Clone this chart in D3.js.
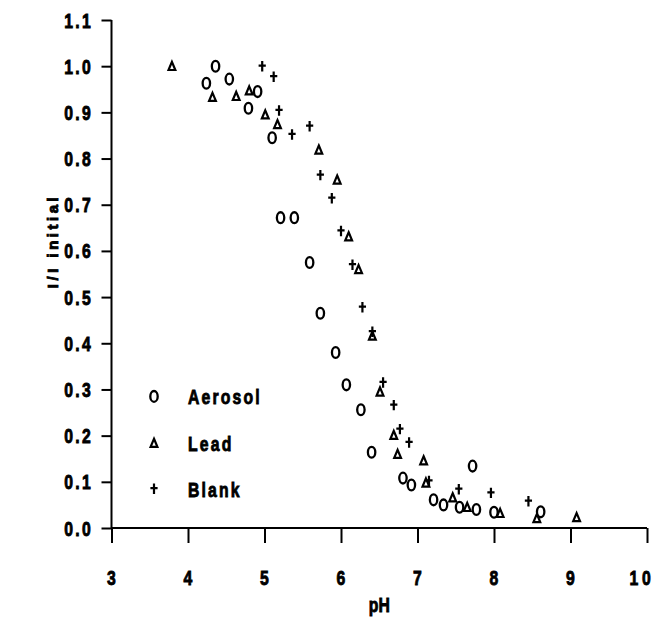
<!DOCTYPE html>
<html>
<head>
<meta charset="utf-8">
<script src="https://cdn.jsdelivr.net/npm/d3@7"></script>
<style>
  html, body { margin: 0; padding: 0; background: #fff; }
  svg text { font-family: "Liberation Sans", Arial, sans-serif; font-weight: bold; fill: #000; stroke: #000; stroke-width: 0.9px; }
</style>
</head>
<body>
<svg id="chart" width="659" height="619"></svg>
<script>
// ---- data ----
const aerosolPH = [4.36, 4.24, 4.54, 4.91, 4.79, 5.10, 5.21, 5.39, 5.59, 5.73, 5.93, 6.07, 6.26, 6.40, 6.81, 6.92, 7.21, 7.34, 7.55, 7.77, 7.72, 8.00, 8.61];
const aerosolI  = [1.00, 0.963, 0.972, 0.945, 0.909, 0.845, 0.672, 0.672, 0.575, 0.465, 0.380, 0.310, 0.256, 0.164, 0.108, 0.093, 0.061, 0.050, 0.045, 0.040, 0.134, 0.034, 0.035];
const leadPH = [3.79, 4.32, 4.63, 4.80, 5.01, 5.17, 5.71, 5.95, 6.10, 6.23, 6.41, 6.51, 6.69, 6.74, 7.08, 7.11, 7.46, 7.65, 8.08, 8.56, 9.08];
const leadI  = [1.00, 0.933, 0.935, 0.947, 0.895, 0.874, 0.819, 0.754, 0.631, 0.560, 0.416, 0.295, 0.201, 0.160, 0.146, 0.098, 0.066, 0.045, 0.032, 0.021, 0.023];
const blankPH = [4.97, 5.12, 5.19, 5.36, 5.59, 5.73, 5.88, 6.00, 6.15, 6.28, 6.41, 6.55, 6.69, 6.77, 6.89, 7.15, 7.54, 7.96, 8.45];
const blankI  = [1.00, 0.977, 0.904, 0.852, 0.870, 0.764, 0.714, 0.643, 0.570, 0.478, 0.425, 0.315, 0.266, 0.214, 0.185, 0.102, 0.084, 0.076, 0.058];
const xTicks = [3, 4, 5, 6, 7, 8, 9, 10];
const yTicks = [0.0, 0.1, 0.2, 0.3, 0.4, 0.5, 0.6, 0.7, 0.8, 0.9, 1.0, 1.1];
const seriesNames = ["Aerosol", "Lead", "Blank"];
const xTitle = "pH";
const yTitle = "I/I initial";

// ---- layout ----
const svg = d3.select("#chart");
const x = d3.scaleLinear().domain([3, 10]).range([111.5, 647]);
const y = d3.scaleLinear().domain([0, 1.1]).range([528, 20]);
const SX = 0.75; // horizontal condensing of the bold type

function condText(parent, tx, ty, str, opts) {
  const g = parent.append("g").attr("transform", `translate(${tx},${ty}) scale(${SX},1)`);
  return g.append("text").attr("x", 0).attr("y", 0)
    .attr("font-size", opts.size || 21)
    .attr("letter-spacing", opts.ls || 0)
    .attr("text-anchor", opts.anchor || "start")
    .text(str);
}

// marker shapes
function circleMark(g) {
  g.append("ellipse").attr("rx", 3.7).attr("ry", 5.4)
    .attr("fill", "none").attr("stroke", "#000").attr("stroke-width", 2.3);
}
function triMark(g) {
  g.append("path").attr("d", "M0,-4.3 L3.4,3.8 L-3.4,3.8 Z")
    .attr("fill", "none").attr("stroke", "#000").attr("stroke-width", 2.2).attr("stroke-linejoin", "miter");
}
function plusMark(g) {
  g.append("path").attr("d", "M0,-5.2 V5.2 M-3.6,-0.6 H3.6")
    .attr("fill", "none").attr("stroke", "#000").attr("stroke-width", 2.2);
}

// ---- axes ----
const xAxis = d3.axisBottom(x).tickValues(xTicks).tickSize(15).tickFormat("");
const gx = svg.append("g").attr("transform", `translate(0,${y(0)})`).call(xAxis);
gx.select(".domain").attr("stroke", "#000").attr("stroke-width", 2).attr("d", `M${x(3)},0H${x(10)}`);
gx.selectAll(".tick line").attr("stroke", "#000").attr("stroke-width", 2);
xTicks.forEach(t => {
  condText(svg, x(t) + (t === 10 ? -5 : 0), 585, String(t), { anchor: "middle", ls: t === 10 ? 5 : 0 });
});

const yAxis = d3.axisLeft(y).tickValues(yTicks).tickSize(10).tickFormat("");
const gy = svg.append("g").attr("transform", `translate(${x(3)},0)`).call(yAxis);
gy.select(".domain").attr("stroke", "#000").attr("stroke-width", 2).attr("d", `M0,${y(1.1)}V${y(0)}`);
gy.selectAll(".tick line").attr("stroke", "#000").attr("stroke-width", 2);
const yFmt = d3.format(".1f");
yTicks.forEach(t => {
  condText(svg, 93, y(t) + 7.5, yFmt(t), { anchor: "end", ls: 3 });
});

// axis titles
condText(svg, (x(3) + x(10)) / 2, 612, xTitle, { anchor: "middle", size: 21 });
svg.append("text").attr("transform", `translate(58,241) rotate(-90)`).attr("text-anchor", "middle")
  .attr("font-size", 15).attr("letter-spacing", "3.5px").text(yTitle);

// ---- data points ----
const data = [
  { pH: aerosolPH, I: aerosolI, mark: circleMark },
  { pH: leadPH, I: leadI, mark: triMark },
  { pH: blankPH, I: blankI, mark: plusMark }
];
data.forEach(s => {
  s.pH.forEach((p, i) => {
    const g = svg.append("g").attr("transform", `translate(${x(p)},${y(s.I[i])})`);
    s.mark(g);
  });
});

// ---- legend ----
const legMarks = [circleMark, triMark, plusMark];
const legendY = [0.285, 0.184, 0.085];
seriesNames.forEach((name, i) => {
  const cy = y(legendY[i]);
  const g = svg.append("g").attr("transform", `translate(154,${cy})`);
  legMarks[i](g);
  condText(svg, 188, cy + 8, name, { ls: 2.9 });
});
</script>
</body>
</html>
